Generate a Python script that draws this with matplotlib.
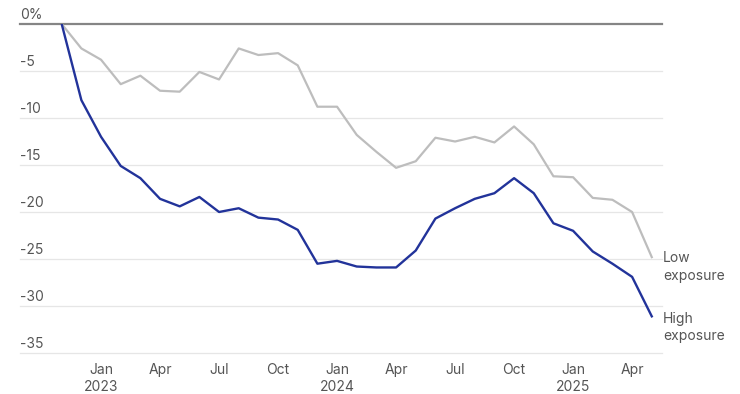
import matplotlib.pyplot as plt

# months since Jan 2023 (Nov 2022 = -2 ... May 2025 = 28)
months = list(range(-2, 29))

low_exposure = [0, -2.6, -3.8, -6.4, -5.5, -7.1, -7.2, -5.1, -5.9, -2.6, -3.3, -3.1,
                -4.4, -8.8, -8.8, -11.8, -13.6, -15.3, -14.6, -12.1, -12.5, -12.0,
                -12.6, -10.9, -12.8, -16.2, -16.3, -18.5, -18.7, -20.0, -24.8]

high_exposure = [0, -8.1, -12.0, -15.1, -16.4, -18.6, -19.4, -18.4, -20.0, -19.6, -20.6,
                 -20.8, -21.9, -25.5, -25.2, -25.8, -25.9, -25.9, -24.1, -20.7, -19.6,
                 -18.6, -18.0, -16.4, -18.0, -21.2, -22.0, -24.2, -25.5, -26.9, -31.1]

tick_pos = [0, 3, 6, 9, 12, 15, 18, 21, 24, 27]
tick_labels = ['Jan\n2023', 'Apr', 'Jul', 'Oct', 'Jan\n2024', 'Apr', 'Jul', 'Oct',
               'Jan\n2025', 'Apr']

y_ticks = [0, -5, -10, -15, -20, -25, -30, -35]
y_labels = ['0%', '-5', '-10', '-15', '-20', '-25', '-30', '-35']

plt.rcParams['font.family'] = ['Inter', 'DejaVu Sans']

fig = plt.figure(figsize=(7.4, 3.94), dpi=100)
ax = fig.add_axes([20 / 740, 1 - 353 / 394, 642 / 740, 329 / 394])

for y in y_ticks:
    if y == 0:
        ax.axhline(y, color='#858585', lw=1.6, zorder=1, clip_on=False)
    else:
        ax.axhline(y, color='#e6e6e6', lw=0.9, zorder=0, clip_on=False)

ax.plot(months, low_exposure, color='#bdbdbd', lw=1.6, zorder=2)
ax.plot(months, high_exposure, color='#22339a', lw=1.7, zorder=3)

ax.set_xlim(-4.12, 28.52)
ax.set_ylim(-35, 0)

for y, lab in zip(y_ticks, y_labels):
    ax.annotate(lab, xy=(0, y), xycoords=('axes fraction', 'data'),
                xytext=(0, 9), textcoords='offset pixels',
                ha='left', va='center', fontsize=10, color='#555555')

ax.set_xticks(tick_pos)
ax.set_xticklabels(tick_labels, fontsize=10, color='#555555', linespacing=1.3)
ax.tick_params(axis='x', length=0, pad=7)
ax.set_yticks([])
for s in ax.spines.values():
    s.set_visible(False)

ax.annotate('Low\nexposure', xy=(months[-1], low_exposure[-1]),
            xytext=(11, -10), textcoords='offset pixels',
            ha='left', va='center', fontsize=10, color='#555555', linespacing=1.3)
ax.annotate('High\nexposure', xy=(months[-1], high_exposure[-1]),
            xytext=(11, -11), textcoords='offset pixels',
            ha='left', va='center', fontsize=10, color='#555555', linespacing=1.3)

fig.savefig('out.png', dpi=100)
